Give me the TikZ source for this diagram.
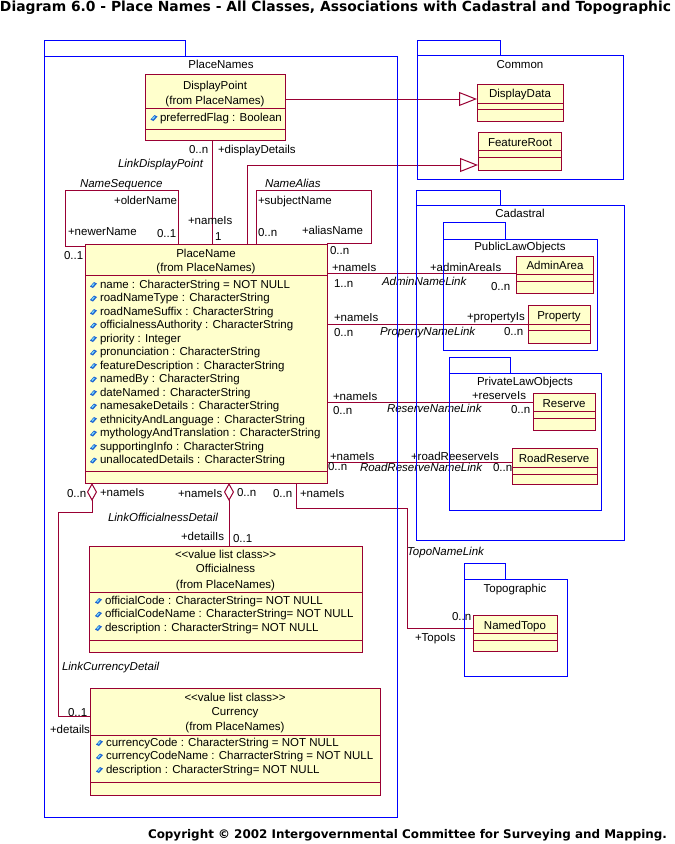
\documentclass[tikz,border=0pt]{standalone}
\usepackage{graphicx}
\usepackage{fontspec}
\setmainfont{Liberation Sans}
\newfontfamily\titlefont{DejaVu Sans}
\usetikzlibrary{arrows.meta}
\definecolor{umlred}{RGB}{153,0,51}
\definecolor{umlfill}{RGB}{255,255,204}
\definecolor{pkgblue}{RGB}{0,0,255}
\definecolor{iconblue}{RGB}{30,100,210}
\definecolor{iconcyan}{RGB}{120,220,250}
\newcommand{\dfont}{\fontsize{11.5}{13.5}\selectfont}
\begin{document}
\begin{tikzpicture}[x=1pt,y=-1pt,
  every node/.style={inner sep=0pt,outer sep=0pt},
  cls/.style={draw=umlred,fill=umlfill,line width=1pt,anchor=north west},
  cdiv/.style={draw=umlred,line width=1pt},
  pkg/.style={draw=pkgblue,line width=1pt},
  conn/.style={draw=umlred,line width=1pt},
  lbl/.style={font=\dfont,text height=8pt,text depth=2pt,anchor=west},
  clbl/.style={lbl,anchor=center},
  ilbl/.style={lbl,font=\dfont\itshape},
  gen/.style={conn,-{Triangle[open,length=18pt,width=14pt]}},
  agg/.style={conn,{Diamond[open,length=18pt,width=10pt]}-},
  aicon/.pic={\fill[iconblue] (-3.5,1.5) -- (0.5,-3) -- (3.5,-1.5) -- (-0.5,3) -- cycle;
              \fill[iconcyan] (-2,0.8) -- (0.3,-1.8) -- (1.3,-1.2) -- (-1,1.4) -- cycle;}
]
\useasboundingbox (0,0) rectangle (675,844);
\fill[white] (0,0) rectangle (675,844);

% ---------- title & copyright
\node[anchor=base west] (title) at (0,11) {\resizebox{671pt}{!}{\titlefont\bfseries\fontsize{12.5}{14}\selectfont Diagram 6.0 - Place Names - All Classes, Associations with Cadastral and Topographic}};
\node[anchor=base west] (copyr) at (148,838) {\resizebox{519pt}{!}{\titlefont\bfseries\fontsize{12}{14}\selectfont Copyright © 2002 Intergovernmental Committee for Surveying and Mapping.}};

% ---------- classes
\node[cls,minimum width=140pt,minimum height=66pt] (dp) at (145,74) {};
\draw[cdiv] (145,108) -- (285,108); \draw[cdiv] (145,129) -- (285,129);
\node[clbl] (dpn) at (215,86) {DisplayPoint};
\node[clbl] (dpf) at (215,101) {(from PlaceNames)};
\node[lbl] (dpa) at (160,118) {preferredFlag : Boolean};
\pic at (154,118) {aicon};

\node[cls,minimum width=86pt,minimum height=37pt] (dd) at (477,84) {};
\draw[cdiv] (477,103) -- (563,103); \draw[cdiv] (477,109) -- (563,109);
\node[clbl] (ddn) at (520,94) {DisplayData};

\node[cls,minimum width=83pt,minimum height=38pt] (fr) at (478,132) {};
\draw[cdiv] (478,150) -- (561,150); \draw[cdiv] (478,157) -- (561,157);
\node[clbl] (frn) at (520,143) {FeatureRoot};

\node[cls,minimum width=77pt,minimum height=37pt] (aa) at (516,256) {};
\draw[cdiv] (516,274) -- (593,274); \draw[cdiv] (516,281) -- (593,281);
\node[clbl] (aan) at (555,266) {AdminArea};

\node[cls,minimum width=62pt,minimum height=38pt] (prop) at (528,305) {};
\draw[cdiv] (528,324) -- (590,324); \draw[cdiv] (528,330) -- (590,330);
\node[clbl] (propn) at (559,316) {Property};

\node[cls,minimum width=62pt,minimum height=37pt] (res) at (533,393) {};
\draw[cdiv] (533,411) -- (595,411); \draw[cdiv] (533,418) -- (595,418);
\node[clbl] (resn) at (564,404) {Reserve};

\node[cls,minimum width=85pt,minimum height=36pt] (rr) at (512,448) {};
\draw[cdiv] (512,467) -- (597,467); \draw[cdiv] (512,474) -- (597,474);
\node[clbl] (rrn) at (554,459) {RoadReserve};

\node[cls,minimum width=84pt,minimum height=36pt] (nt) at (473,615) {};
\draw[cdiv] (473,633) -- (557,633); \draw[cdiv] (473,640) -- (557,640);
\node[clbl] (ntn) at (515,626) {NamedTopo};

\node[cls,minimum width=242pt,minimum height=239pt] (pn) at (85,244) {};
\draw[cdiv] (85,275) -- (327,275); \draw[cdiv] (85,471) -- (327,471);
\node[clbl] (pnn) at (206,254) {PlaceName};
\node[clbl] (pnf) at (206,268) {(from PlaceNames)};
\foreach \t [count=\i from 0] in {name : CharacterString = NOT NULL,roadNameType : CharacterString,roadNameSuffix : CharacterString,officialnessAuthority : CharacterString,priority : Integer,pronunciation : CharacterString,featureDescription : CharacterString,namedBy : CharacterString,dateNamed : CharacterString,namesakeDetails : CharacterString,ethnicityAndLanguage : CharacterString,mythologyAndTranslation : CharacterString,supportingInfo : CharacterString,unallocatedDetails : CharacterString}{
  \node[lbl] (pna\i) at (100,{285+13.5*\i}) {\t};
  \pic at (93.5,{285+13.5*\i}) {aicon};
}

\node[cls,minimum width=273pt,minimum height=106pt] (off) at (89,546) {};
\draw[cdiv] (89,592) -- (362,592); \draw[cdiv] (89,640) -- (362,640);
\node[clbl] (offs) at (225.5,555) {<{}<value list class>{}>};
\node[clbl] (offn) at (225.5,569) {Officialness};
\node[clbl] (offf) at (225.5,585) {(from PlaceNames)};
\foreach \t [count=\i from 0] in {officialCode : CharacterString= NOT NULL,officialCodeName : CharacterString= NOT NULL,description : CharacterString= NOT NULL}{
  \node[lbl] (offa\i) at (105,{601+13.5*\i}) {\t};
  \pic at (98.5,{601+13.5*\i}) {aicon};
}

\node[cls,minimum width=290pt,minimum height=107pt] (cur) at (90,688) {};
\draw[cdiv] (90,735) -- (380,735); \draw[cdiv] (90,782) -- (380,782);
\node[clbl] (curs) at (235,698) {<{}<value list class>{}>};
\node[clbl] (curn) at (235,712) {Currency};
\node[clbl] (curf) at (235,727) {(from PlaceNames)};
\foreach \t [count=\i from 0] in {currencyCode : CharacterString = NOT NULL,currencyCodeName : CharracterString = NOT NULL,description : CharacterString= NOT NULL}{
  \node[lbl] (cura\i) at (106,{743+13.5*\i}) {\t};
  \pic at (99.5,{743+13.5*\i}) {aicon};
}

% ---------- connectors
\draw[gen] (dp.east |- 0,99) -- (dd.west |- 0,99);
\draw[gen] (pn.north -| 247,0) |- (fr.west |- 0,165);
\draw[conn] (dp.south -| 212,0) -- (pn.north -| 212,0);
\draw[conn] (pn.north -| 178,0) -- (178,190) -- (65,190) -- (65,246) -- (pn.west |- 0,246);
\draw[conn] (pn.north -| 256,0) -- (256,190) -- (371,190) -- (371,243) -- (pn.east |- 0,243);
\draw[conn] (pn.east |- 0,273) -- (aa.west |- 0,273);
\draw[conn] (pn.east |- 0,324) -- (prop.west |- 0,324);
\draw[conn] (pn.east |- 0,402) -- (res.west |- 0,402);
\draw[conn] (pn.east |- 0,462) -- (rr.west |- 0,462);
\draw[conn] (pn.south -| 296,0) -- (296,508) -- (407,508) -- (407,628) -- (nt.west |- 0,628);
\draw[agg] (pn.south -| 229,0) -- (off.north -| 229,0);
\draw[agg] (pn.south -| 92,0) -- (92,512) -- (58,512) -- (58,716) -- (cur.west |- 0,716);

% ---------- association labels
\node[lbl] (l1) at (189,150) {0..n};
\node[lbl] (l2) at (218,150) {+displayDetails};
\node[ilbl] (l3) at (118,164) {LinkDisplayPoint};
\node[lbl] (l4) at (188,221) {+nameIs};
\node[lbl] (l5) at (215,237) {1};
\node[ilbl] (l6) at (80,184) {NameSequence};
\node[lbl,anchor=east] (l7) at (177,201) {+olderName};
\node[lbl] (l8) at (68,232) {+newerName};
\node[lbl] (l9) at (157,234) {0..1};
\node[lbl] (l10) at (64,256) {0..1};
\node[ilbl] (l11) at (265,184) {NameAlias};
\node[lbl] (l12) at (258,201) {+subjectName};
\node[lbl] (l13) at (258,233) {0..n};
\node[lbl] (l14) at (302,231) {+aliasName};
\node[lbl] (l15) at (330,251) {0..n};
\node[lbl] (l16) at (332,268) {+nameIs};
\node[lbl] (l17) at (334,284) {1..n};
\node[ilbl] (l18) at (382,282) {AdminNameLink};
\node[lbl] (l19) at (430,268) {+adminAreaIs};
\node[lbl] (l20) at (491,287) {0..n};
\node[lbl] (l21) at (334,318) {+nameIs};
\node[lbl] (l22) at (334,333) {0..n};
\node[ilbl] (l23) at (380,332) {PropertyNameLink};
\node[lbl] (l24) at (467,317) {+propertyIs};
\node[lbl] (l25) at (504,332) {0..n};
\node[lbl] (l26) at (333,397) {+nameIs};
\node[lbl] (l27) at (333,411) {0..n};
\node[ilbl] (l28) at (387,409) {ReserveNameLink};
\node[lbl] (l29) at (472,396) {+reserveIs};
\node[lbl] (l30) at (511,410) {0..n};
\node[lbl] (l31) at (330,457) {+nameIs};
\node[lbl] (l32) at (328,467) {0..n};
\node[ilbl] (l33) at (360,468) {RoadReserveNameLink};
\node[lbl] (l34) at (411,457) {+roadReeserveIs};
\node[lbl] (l35) at (493,468) {0..n};
\node[lbl] (l36) at (67,494) {0..n};
\node[lbl] (l37) at (100,493) {+nameIs};
\node[lbl] (l38) at (178,494) {+nameIs};
\node[lbl] (l39) at (237,493) {0..n};
\node[lbl] (l40) at (273,494) {0..n};
\node[lbl] (l41) at (300,494) {+nameIs};
\node[ilbl] (l42) at (108,518) {LinkOfficialnessDetail};
\node[lbl] (l43) at (181,537) {+detailIs};
\node[lbl] (l44) at (233,539) {0..1};
\node[ilbl] (l45) at (407,552) {TopoNameLink};
\node[lbl] (l46) at (452,617) {0..n};
\node[lbl] (l47) at (415,638) {+TopoIs};
\node[ilbl] (l48) at (62,667) {LinkCurrencyDetail};
\node[lbl] (l49) at (68,713) {0..1};
\node[lbl] (l50) at (50,730) {+details};

% ---------- packages
\draw[pkg] (44,40) rectangle (185,56); \draw[pkg] (44,56) rectangle (397,817);
\node[clbl] (pk1) at (221,65) {PlaceNames};
\draw[pkg] (417,40) rectangle (500,55); \draw[pkg] (417,55) rectangle (623,179);
\node[clbl] (pk2) at (520,65) {Common};
\draw[pkg] (416,190) rectangle (500,205); \draw[pkg] (416,205) rectangle (624,540);
\node[clbl] (pk3) at (520,214) {Cadastral};
\draw[pkg] (443,222) rectangle (505,239); \draw[pkg] (443,239) rectangle (597,350);
\node[clbl] (pk4) at (520,247) {PublicLawObjects};
\draw[pkg] (449,357) rectangle (510,373); \draw[pkg] (449,373) rectangle (601,510);
\node[clbl] (pk5) at (525,382) {PrivateLawObjects};
\draw[pkg] (464,563) rectangle (505,579); \draw[pkg] (464,579) rectangle (567,676);
\node[clbl] (pk6) at (515,589) {Topographic};
\end{tikzpicture}
\end{document}
